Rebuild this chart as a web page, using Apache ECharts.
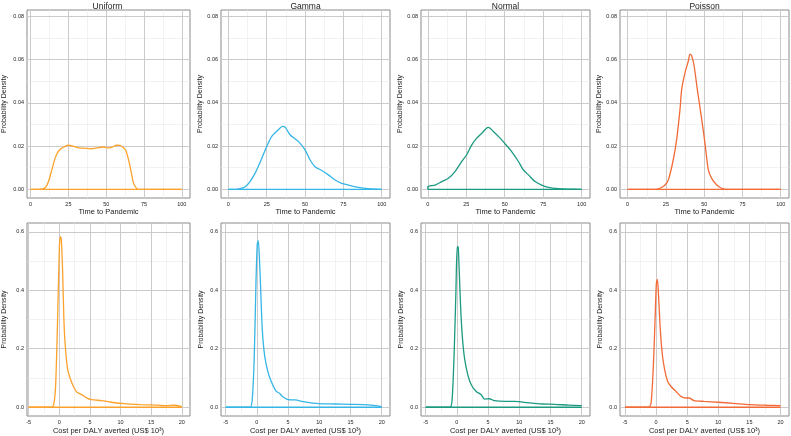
<!DOCTYPE html>
<html>
<head>
<meta charset="utf-8">
<script src="https://cdn.jsdelivr.net/npm/echarts@6/dist/echarts.min.js"></script>
<style>html,body{margin:0;padding:0;background:#fff}#c{width:791px;height:436px}</style>
</head>
<body>
<div id="c"></div>
<script>
// ---------- data ----------
const panelTitles = ['Uniform', 'Gamma', 'Normal', 'Poisson'];
const timeAxisTitle = 'Time to Pandemic';
const costAxisTitle = 'Cost per DALY averted (US$ 10³)';
const densityAxisTitle = 'Probability Density';

const timeTicks = [0, 25, 50, 75, 100];
const timeMinorTicks = [12.5, 37.5, 62.5, 87.5];
const timeDensityTicks = [0, 0.02, 0.04, 0.06, 0.08];
const timeDensityMinorTicks = [0.01, 0.03, 0.05, 0.07];
const costTicks = [-5, 0, 5, 10, 15, 20];
const costMinorTicks = [-2.5, 2.5, 7.5, 12.5, 17.5];
const costDensityTicks = [0, 0.2, 0.4, 0.6];
const costDensityMinorTicks = [0.1, 0.3, 0.5];

const timeRange = [0, 100];
const costRange = [-5, 20];

const uniformTime = [[0,0],[5,0],[8,0.0002],[10,0.001],[12,0.004],[14,0.009],[16,0.014],[18,0.0172],[20,0.0188],[22,0.0196],[25,0.0204],[28,0.0200],[32,0.0192],[36,0.0190],[40,0.0188],[44,0.0192],[48,0.0196],[51,0.0192],[54,0.0196],[57,0.0204],[59,0.0203],[61,0.0195],[63,0.018],[65,0.013],[66.5,0.008],[68,0.003],[69.5,0.001],[71,0],[100,0]];
const gammaTime = [[0,0],[5,0],[6.5,0.0002],[9,0.0006],[11,0.0012],[14,0.0035],[17.4,0.0074],[21,0.013],[25,0.0198],[28.3,0.0245],[32.6,0.0276],[35.2,0.0291],[37,0.0288],[40.2,0.0253],[45.6,0.0222],[50,0.0183],[53.3,0.0136],[56.5,0.0105],[60.9,0.0087],[65.2,0.0067],[69.6,0.0043],[73.9,0.0028],[78.3,0.002],[84.8,0.0009],[91.3,0.0003],[100,0]];
const normalTime = [[0,0],[0,0.0012],[4.8,0.002],[9.1,0.0036],[13.4,0.0051],[17.7,0.0082],[22.1,0.0129],[25.3,0.016],[28.6,0.0206],[31.8,0.0237],[35.1,0.026],[38.3,0.0284],[39.4,0.0287],[42.6,0.0268],[47,0.0237],[50.2,0.0211],[54.5,0.0175],[58.9,0.0129],[62.1,0.009],[65.4,0.0067],[69.7,0.0036],[74,0.002],[78.4,0.0009],[84.8,0.0003],[91.3,0.0001],[100,0]];
const poissonTime = [[0,0],[17.9,0],[21.1,0.0005],[24.4,0.002],[26.6,0.0044],[29.8,0.0137],[32,0.023],[34.2,0.037],[35.3,0.0463],[37.5,0.054],[39.7,0.0595],[40.7,0.0626],[41.8,0.0618],[43.4,0.0572],[45.5,0.0463],[48.4,0.0323],[50.5,0.0214],[52.7,0.009],[54.9,0.0051],[58.2,0.002],[61.4,0.0005],[64.7,0],[100,0]];

const uniformCost = [[-5,0],[-1.24,0],[-0.86,0.015],[-0.59,0.077],[-0.27,0.302],[0,0.538],[0.16,0.583],[0.32,0.577],[0.54,0.47],[0.75,0.302],[0.97,0.212],[1.34,0.133],[1.77,0.099],[2.31,0.071],[2.85,0.052],[3.66,0.043],[4.46,0.032],[5.27,0.026],[6.9,0.0225],[8.5,0.017],[10.6,0.012],[13.3,0.009],[16,0.007],[17.6,0.0056],[18.7,0.0068],[20,0.002]];
const gammaCost = [[-5,0],[-1.1,0],[-0.75,0.026],[-0.43,0.166],[-0.16,0.414],[0.05,0.555],[0.21,0.57],[0.37,0.527],[0.59,0.414],[0.86,0.268],[1.23,0.178],[1.76,0.122],[2.3,0.088],[3.1,0.054],[3.6,0.048],[4.1,0.037],[5.0,0.026],[6.1,0.025],[7.7,0.018],[9.9,0.012],[12.5,0.011],[15,0.010],[17.9,0.008],[20,0.002]];
const normalCost = [[-5,0],[-1.1,0],[-0.75,0.031],[-0.43,0.189],[-0.16,0.392],[0.05,0.549],[0.21,0.547],[0.37,0.47],[0.59,0.347],[0.86,0.245],[1.23,0.167],[1.76,0.11],[2.3,0.077],[3.1,0.054],[3.9,0.043],[4.4,0.028],[5.2,0.029],[6.0,0.0225],[7.7,0.02],[9.3,0.02],[11.5,0.015],[13.6,0.011],[15.7,0.010],[17.9,0.007],[20,0.0056]];
const poissonCost = [[-5,0],[-1.18,0],[-0.8,0.015],[-0.43,0.144],[-0.16,0.302],[0.05,0.425],[0.21,0.437],[0.37,0.392],[0.64,0.279],[0.96,0.189],[1.34,0.133],[1.87,0.088],[2.4,0.071],[3.2,0.054],[4.0,0.037],[4.8,0.0315],[5.3,0.0315],[6.1,0.0225],[7.7,0.02],[10,0.017],[12.4,0.0135],[15,0.009],[17.8,0.0068],[20,0.0056]];

// ---------- layout & style ----------
const colors = ['#fca22c', '#35b6e6', '#1b9a80', '#f26b37'];
const colLeft = [25, 221, 421, 620];
const colRight = [190, 390, 590, 789];
const rowTop = [10, 223];
const rowBottom = [198, 418];
const topXRange = [[-2.4, 105.4], [-4.8, 105.4], [-4.4, 105.4], [-5.0, 105.4]];
const botXRange = [[-5.27, 21.34], [-5.75, 21.33], [-5.75, 21.33], [-5.8, 21.37]];
const topYRange = [-0.004, 0.083];
const botYRange = [-0.03, 0.63];
const yNameGap = [19, 16, 16, 16];
const W = 791, H = 436;
const FONT = 'Liberation Sans, Arial, sans-serif';
const majorColor = '#cfcaca';
const minorColor = '#ebe8e8';

const timeSeries = [uniformTime, gammaTime, normalTime, poissonTime];
const costSeries = [uniformCost, gammaCost, normalCost, poissonCost];

const grids = [], xAxes = [], yAxes = [], series = [], titles = [];

function gridLines(xMaj, xMin, yMaj, yMin) {
  const d = [];
  xMin.forEach(v => d.push({xAxis: v, lineStyle: {color: minorColor, width: 0.6, type: 'solid'}}));
  yMin.forEach(v => d.push({yAxis: v, lineStyle: {color: minorColor, width: 0.6, type: 'solid'}}));
  xMaj.forEach(v => d.push({xAxis: v, lineStyle: {color: majorColor, width: 1, type: 'solid'}}));
  yMaj.forEach(v => d.push({yAxis: v, lineStyle: {color: majorColor, width: 1, type: 'solid'}}));
  return d;
}

for (let row = 0; row < 2; row++) {
  for (let col = 0; col < 4; col++) {
    const idx = row * 4 + col;
    const isTop = row === 0;
    grids.push({
      left: colLeft[col], width: colRight[col] - colLeft[col],
      top: rowTop[row], height: rowBottom[row] - rowTop[row],
      show: true, borderColor: '#8a8a8a', borderWidth: 1, backgroundColor: 'transparent'
    });
    const xr = isTop ? topXRange[col] : botXRange[col];
    const xt = isTop ? timeTicks : costTicks;
    const yt = isTop ? timeDensityTicks : costDensityTicks;
    xAxes.push({
      type: 'value', gridIndex: idx, min: xr[0], max: xr[1],
      name: isTop ? timeAxisTitle : costAxisTitle,
      nameLocation: 'middle', nameGap: isTop ? 10 : 11,
      nameTextStyle: {fontFamily: FONT, fontSize: 7.5, color: '#222'},
      axisLine: {show: false},
      axisTick: {show: true, length: 2, customValues: xt, lineStyle: {color: '#444', width: 0.8}},
      axisLabel: {show: true, customValues: xt, fontFamily: FONT, fontSize: 5.5, color: '#222', margin: 3,
        formatter: v => String(v)},
      splitLine: {show: false}, minorSplitLine: {show: false}
    });
    yAxes.push({
      type: 'value', gridIndex: idx, min: isTop ? topYRange[0] : botYRange[0], max: isTop ? topYRange[1] : botYRange[1],
      name: densityAxisTitle, nameLocation: 'middle', nameGap: yNameGap[col], nameRotate: 90,
      nameTextStyle: {fontFamily: FONT, fontSize: 7, color: '#222'},
      axisLine: {show: false},
      axisTick: {show: true, length: 2, customValues: yt, lineStyle: {color: '#444', width: 0.8}},
      axisLabel: {show: true, customValues: yt, fontFamily: FONT, fontSize: 5.5, color: '#222', margin: 3,
        formatter: v => v.toFixed(isTop ? 2 : 1)},
      splitLine: {show: false}
    });
    const rng = isTop ? timeRange : costRange;
    // baseline (outline bottom of the density) carries the grid lines
    series.push({
      type: 'line', xAxisIndex: idx, yAxisIndex: idx, z: 2,
      data: [[rng[0], 0], [rng[1], 0]],
      showSymbol: false, silent: true, animation: false,
      lineStyle: {color: colors[col], width: 1.3},
      markLine: {
        z: 1, silent: true, animation: false, symbol: ['none', 'none'], label: {show: false},
        data: isTop ? gridLines(timeTicks, timeMinorTicks, timeDensityTicks, timeDensityMinorTicks)
                    : gridLines(costTicks, costMinorTicks, costDensityTicks, costDensityMinorTicks)
      }
    });
    series.push({
      type: 'line', xAxisIndex: idx, yAxisIndex: idx, z: 3,
      data: isTop ? timeSeries[col] : costSeries[col],
      showSymbol: false, silent: true, animation: false,
      smooth: 0.25,
      lineStyle: {color: colors[col], width: 1.3}
    });
    if (isTop) {
      titles.push({
        text: panelTitles[col], padding: 0, z: 10,
        left: (colLeft[col] + colRight[col]) / 2, top: 2, textAlign: 'center',
        textStyle: {fontFamily: FONT, fontSize: 8.5, lineHeight: 9, fontWeight: 'normal', color: '#222'}
      });
    }
  }
}

const chart = echarts.init(document.getElementById('c'), null, {renderer: 'canvas', width: W, height: H});
chart.setOption({
  animation: false,
  backgroundColor: '#fff',
  title: titles,
  grid: grids, xAxis: xAxes, yAxis: yAxes, series: series
});
</script>
</body>
</html>
